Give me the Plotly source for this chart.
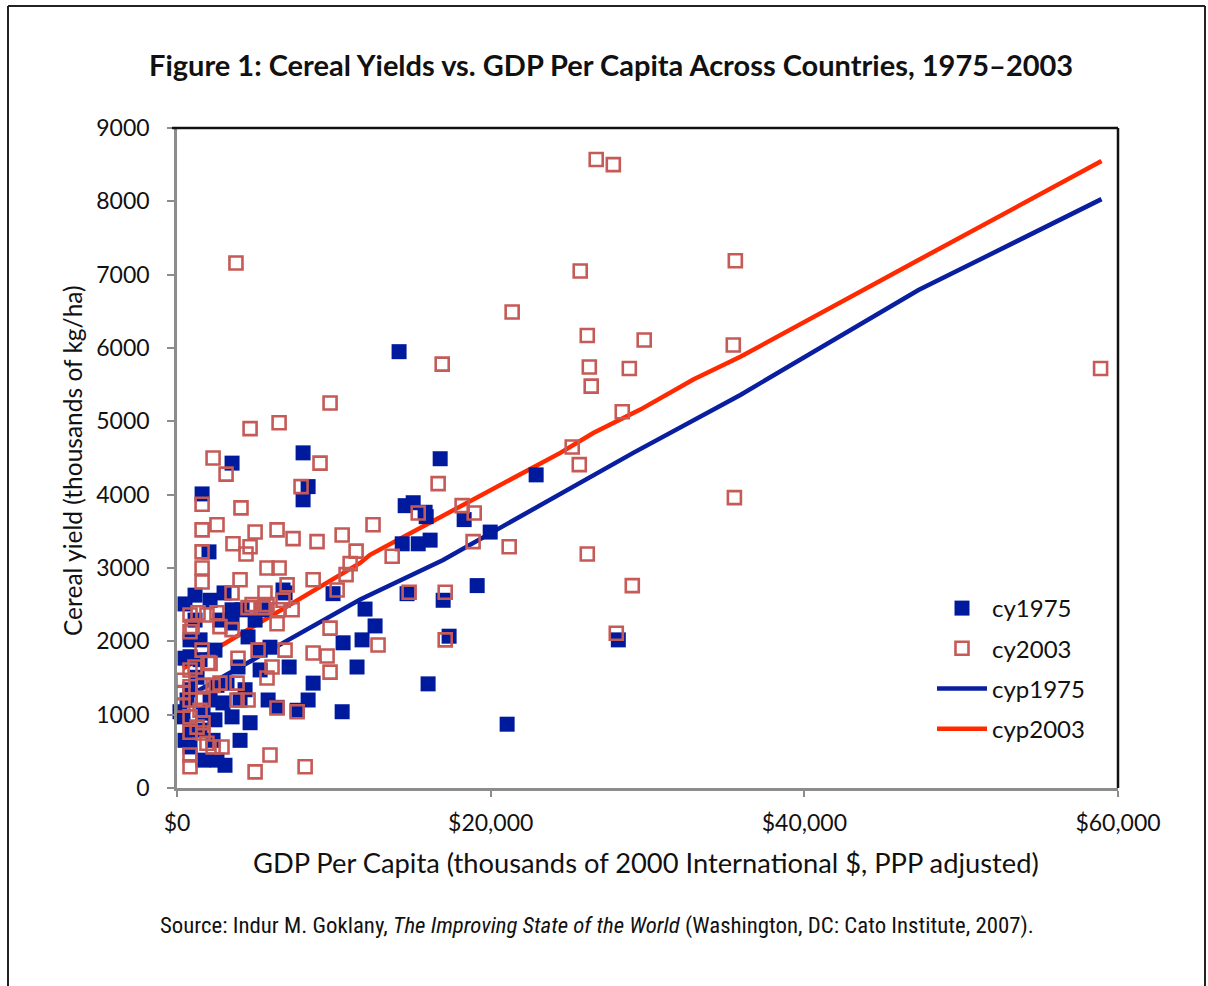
import plotly.graph_objects as go

# Cereal yield (kg/ha) vs GDP per capita, one point per country.
GDP_1975 = [14160, 3510, 8040, 16780, 1600, 8360, 8040, 22900, 14550, 15060,
            15820, 15890, 18310, 14360, 15380, 16140, 19970, 2040, 19140, 14670,
            16970, 9950, 6890, 510, 3000, 11990, 12630, 17350, 11800, 10590,
            28140, 11480, 7150, 8680, 8360, 16010, 10530, 21050, 4660, 3510,
            4150, 5930, 4530, 3510, 6760, 7660, 6380, 3890, 2550, 1660,
            830, 830, 1280, 3190, 2550, 2110, 2930, 1660, 830, 2300,
            510, 380, 3510, 830, 1470, 2420, 5300, 4980, 2740, 1150,
            640, 1470, 4020, 5420, 190, 3060, 5810, 4340, 830, 2110,
            1470, 510, 2420, 5300, 1150, 4020]
CY_1975 = [5950, 4430, 4570, 4490, 4010, 4110, 3930, 4270, 3850, 3890,
           3760, 3700, 3660, 3330, 3330, 3380, 3490, 3220, 2760, 2650,
           2560, 2650, 2660, 2510, 2660, 2440, 2210, 2070, 2020, 1980,
           2020, 1650, 1650, 1430, 1200, 1420, 1040, 870, 890, 2430,
           2430, 1920, 2060, 2250, 2700, 1060, 1100, 1650, 380, 380,
           560, 1790, 1510, 1430, 1400, 1200, 1160, 1020, 790, 650,
           1770, 970, 970, 1340, 2020, 1880, 1880, 2290, 2290, 2290,
           1200, 790, 650, 2430, 1040, 310, 1200, 1340, 2020, 2560,
           1750, 650, 930, 1610, 2630, 1200]

GDP_2003 = [26730, 27820, 3760, 25710, 35600, 21370, 26160, 29790, 26290, 16910,
            35470, 58890, 28840, 26410, 9760, 6510, 4660, 28390, 25200, 25650,
            2300, 9120, 3130, 16650, 7910, 35540, 18180, 4080, 1600, 18950,
            15380, 2550, 12500, 4980, 6380, 1600, 10530, 7400, 8930, 3570,
            4660, 18880, 21180, 26160, 11420, 13720, 4400, 1600, 1600, 5740,
            6510, 11040, 10780, 4020, 8680, 1600, 29030, 17100, 14800, 10210,
            28010, 17100, 12820, 9570, 9760, 6380, 7660, 2300, 2870, 5930,
            4980, 8170, 830, 830, 7020, 3510, 6760, 5610, 4790, 7340,
            5740, 2550, 1340, 830, 960, 1910, 4530, 5490, 6440, 6380,
            830, 1600, 1980, 3890, 5170, 6890, 6060, 5740, 3830, 4530,
            3830, 9760, 8680, 830, 830, 1660, 2300, 830, 1660, 830,
            1660, 830, 1660, 2740, 2110, 380, 380, 1150, 2740, 1470,
            1280, 1910, 3510, 380]
CY_2003 = [8570, 8500, 7160, 7050, 7190, 6490, 6170, 6110, 5740, 5780,
           6040, 5720, 5720, 5480, 5250, 4980, 4900, 5130, 4650, 4410,
           4500, 4430, 4280, 4150, 4110, 3960, 3850, 3820, 3870, 3750,
           3750, 3590, 3590, 3490, 3520, 3520, 3450, 3400, 3360, 3330,
           3290, 3360, 3290, 3190, 3230, 3160, 3190, 3220, 3000, 3000,
           3000, 3060, 2910, 2840, 2840, 2810, 2760, 2670, 2670, 2700,
           2110, 2020, 1950, 1800, 1580, 1090, 1040, 560, 560, 450,
           220, 290, 290, 450, 2770, 2660, 2560, 2660, 2500, 2430,
           2500, 2390, 2390, 2360, 2200, 2360, 2460, 2460, 2430, 2240,
           2130, 1880, 1710, 1770, 1880, 1880, 1650, 1500, 1430, 1200,
           1200, 2180, 1840, 1610, 1380, 1400, 1400, 1200, 1200, 970,
           890, 760, 750, 2200, 1700, 1470, 1300, 1650, 1430, 1060,
           830, 610, 2160, 1130]

# Predicted yields (cyp) along the GDP range.
FIT_GDP_1975 = [380, 6570, 11680, 16970, 24440, 25710, 29090, 35920, 47280, 58950]
FIT_CY_1975 = [1210, 1950, 2570, 3110, 4020, 4160, 4570, 5360, 6790, 8030]
FIT_GDP_2003 = [380, 3190, 11680, 12310, 23160, 24440, 26540, 29540, 32920, 35920, 47280, 58950]
FIT_CY_2003 = [1630, 1990, 3070, 3180, 4430, 4570, 4840, 5160, 5570, 5880, 7200, 8550]

X_TICKS = [0, 20000, 40000, 60000]
X_TICK_LABELS = ["$0", "$20,000", "$40,000", "$60,000"]
Y_TICKS = list(range(0, 9001, 1000))

TITLE = "Figure 1: Cereal Yields vs. GDP Per Capita Across Countries, 1975–2003"
X_TITLE = "GDP Per Capita (thousands of 2000 International $, PPP adjusted)"
Y_TITLE = "Cereal yield (thousands of kg/ha)"
SOURCE = ("Source: Indur M. Goklany, <i>The Improving State of the World</i> "
          "(Washington, DC: Cato Institute, 2007).")

# Full-window figure; the page's default body margin is removed after plotting.
W, H = 1208, 986
PLOT_L, PLOT_R, PLOT_T, PLOT_B = 177, 1118, 128, 788
M_L, M_R, M_T, M_B = PLOT_L, W - PLOT_R, PLOT_T, H - PLOT_B
PLOT_W, PLOT_H = W - M_L - M_R, H - M_T - M_B

BLUE_PT = "#001a9e"
RED_PT = "#c55a57"
BLUE_LINE = "#0a1ea0"
RED_LINE = "#ff2a00"
AXIS_GRAY = "#8c8c8c"
FONT = "Lato, 'Open Sans', sans-serif"


def px_x(px):
    return (px - M_L) / PLOT_W


def px_y(py):
    return (H - M_B - py) / PLOT_H


fig = go.Figure()

# regression lines under the points
fig.add_trace(go.Scatter(
    x=FIT_GDP_1975, y=FIT_CY_1975, mode="lines", name="cyp1975",
    line=dict(color=BLUE_LINE, width=4.5), legendrank=3, legendgroup="c",
))
fig.add_trace(go.Scatter(
    x=FIT_GDP_2003, y=FIT_CY_2003, mode="lines", name="cyp2003",
    line=dict(color=RED_LINE, width=4.5), legendrank=4, legendgroup="d",
))
fig.add_trace(go.Scatter(
    x=GDP_1975, y=CY_1975, mode="markers", name="cy1975",
    marker=dict(symbol="square", size=15, color=BLUE_PT, line=dict(width=0)),
    cliponaxis=False, legendrank=1, legendgroup="a",
))
fig.add_trace(go.Scatter(
    x=GDP_2003, y=CY_2003, mode="markers", name="cy2003",
    marker=dict(symbol="square-open", size=13, color=RED_PT, line=dict(width=2.6, color=RED_PT)),
    cliponaxis=False, legendrank=2, legendgroup="b",
))

fig.update_xaxes(
    range=[0, 60000], tickvals=X_TICKS, ticktext=X_TICK_LABELS,
    showgrid=False, zeroline=False, showline=True, linecolor=AXIS_GRAY, linewidth=2.5,
    ticks="outside", ticklen=6, tickwidth=2, tickcolor=AXIS_GRAY,
    tickfont=dict(size=23, color="#111"), ticklabelstandoff=7,
)
fig.update_yaxes(
    range=[0, 9000], tickvals=Y_TICKS,
    showgrid=False, zeroline=False, showline=True, linecolor=AXIS_GRAY, linewidth=2.5,
    ticks="outside", ticklen=7, tickwidth=2, tickcolor=AXIS_GRAY,
    tickfont=dict(size=23, color="#111"), ticklabelstandoff=13,
)

frame = dict(color="#222", width=2)
shapes = [
    # outer frame (left, top, right)
    dict(type="line", xref="paper", yref="paper", x0=px_x(8), x1=px_x(8), y0=px_y(H + 20), y1=px_y(6),
         line=frame),
    dict(type="line", xref="paper", yref="paper", x0=px_x(8), x1=px_x(1205), y0=px_y(6), y1=px_y(6),
         line=frame),
    dict(type="line", xref="paper", yref="paper", x0=px_x(1205), x1=px_x(1205), y0=px_y(H + 20), y1=px_y(6),
         line=frame),
    # plot area top and right edges
    dict(type="line", xref="paper", yref="paper", x0=px_x(172), x1=1, y0=1, y1=1,
         line=dict(color="#111", width=2.5)),
    dict(type="line", xref="paper", yref="paper", x0=1, x1=1, y0=0, y1=1,
         line=dict(color="#111", width=2.5)),
]

annotations = [
    dict(text=f"<b>{TITLE}</b>", xref="paper", yref="paper", x=px_x(611), y=px_y(64),
         showarrow=False, font=dict(size=29, color="#111"), xanchor="center", yanchor="middle"),
    dict(text=X_TITLE, xref="paper", yref="paper", x=px_x(646), y=px_y(862),
         showarrow=False, font=dict(size=27.3, color="#111"), xanchor="center", yanchor="middle"),
    dict(text=Y_TITLE, xref="paper", yref="paper", x=px_x(72), y=px_y(461), textangle=-90,
         showarrow=False, font=dict(size=24.5, color="#111"), xanchor="center", yanchor="middle"),
    dict(text=SOURCE, xref="paper", yref="paper", x=px_x(597), y=px_y(926),
         showarrow=False, font=dict(size=22.8, color="#111",
                                    family="'Liberation Sans Narrow', 'Roboto Condensed', Roboto, sans-serif"),
         xanchor="center", yanchor="middle"),
]

fig.update_layout(
    width=W, height=H, margin=dict(l=M_L, r=M_R, t=M_T, b=M_B),
    paper_bgcolor="white", plot_bgcolor="white",
    font=dict(family=FONT, color="#111"),
    shapes=shapes, annotations=annotations,
    legend=dict(x=px_x(932), y=px_y(586), xanchor="left", yanchor="top",
                font=dict(size=24, color="#111"), bgcolor="rgba(0,0,0,0)",
                tracegroupgap=6, itemwidth=50),
    showlegend=True,
)

fig.write_html("out.html", config={"displayModeBar": False},
               post_script="document.body.style.margin = '0';")
